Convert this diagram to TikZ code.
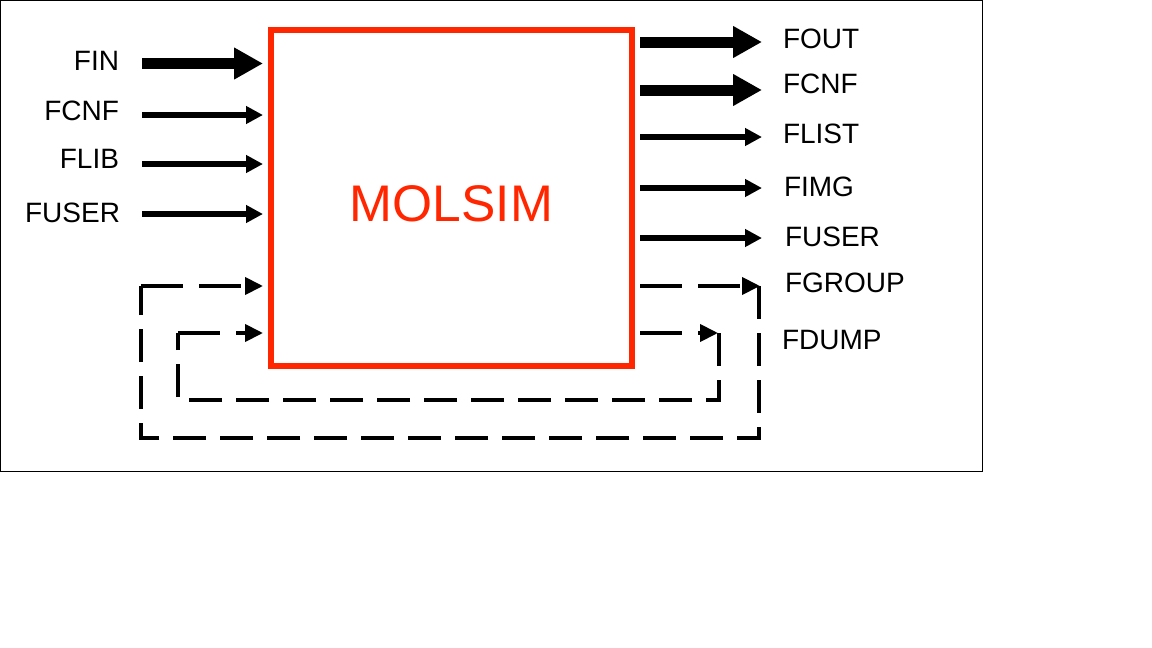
\documentclass[tikz,border=0pt]{standalone}
\usepackage{fontspec}
\setmainfont{Liberation Sans}
\usetikzlibrary{arrows.meta}
\definecolor{molred}{RGB}{255,38,0}
\begin{document}
\begin{tikzpicture}[x=1pt,y=-1pt,
  lbl/.style={inner sep=0pt, outer sep=0pt, font=\fontsize{28}{33}\selectfont},
  bigarrow/.style={line width=11pt, -{Triangle[length=29pt,width=30pt]}},
  thinarrow/.style={line width=6pt, -{Triangle[length=17pt,width=17pt]}},
  dasharrow/.style={line width=4pt, dash pattern=on 42pt off 16pt, -{Triangle[length=18pt,width=17pt]}},
  loopline/.style={line width=4pt, line join=miter, dash pattern=on 33pt off 14pt},
  molbox/.style={draw=molred, line width=6pt, inner sep=0pt, outer sep=0pt,
    minimum width=361pt, minimum height=336.5pt, text=molred,
    text height=46.5pt, text depth=0pt,
    font=\fontsize{51.5}{60}\selectfont}
]
\useasboundingbox (0,0) rectangle (1152,648);
\fill[white] (0,0) rectangle (1152,648);
\draw[line width=1pt] (0.5,0.5) rectangle (982,471);

% main box
\node[molbox] (box) at (451.5,197.75) {MOLSIM};

% input labels
\node[lbl, anchor=east] (iFIN)   at (119,60.5)  {FIN};
\node[lbl, anchor=east] (iFCNF)  at (119,110.5) {FCNF};
\node[lbl, anchor=east] (iFLIB)  at (119,158.5) {FLIB};
\node[lbl, anchor=east] (iFUSER) at (120,212.5) {FUSER};

% input start points
\coordinate (sFIN)   at (142,63.5);
\coordinate (sFCNF)  at (142,115);
\coordinate (sFLIB)  at (142,164);
\coordinate (sFUSER) at (142,214);

\draw[bigarrow, shorten >=8pt]  (sFIN)   -- (sFIN -| box.west);
\draw[thinarrow, shorten >=8pt] (sFCNF)  -- (sFCNF -| box.west);
\draw[thinarrow, shorten >=8pt] (sFLIB)  -- (sFLIB -| box.west);
\draw[thinarrow, shorten >=8pt] (sFUSER) -- (sFUSER -| box.west);

% output labels
\node[lbl, anchor=west] (oFOUT)   at (783,39)    {FOUT};
\node[lbl, anchor=west] (oFCNF)   at (783,84)    {FCNF};
\node[lbl, anchor=west] (oFLIST)  at (783,134)   {FLIST};
\node[lbl, anchor=west] (oFIMG)   at (784,187)   {FIMG};
\node[lbl, anchor=west] (oFUSER)  at (785,237)   {FUSER};
\node[lbl, anchor=west] (oFGROUP) at (785,283)   {FGROUP};
\node[lbl, anchor=west] (oFDUMP)  at (782,340.5) {FDUMP};

% output end points
\coordinate (eFOUT)  at (762,42);
\coordinate (eFCNF)  at (762,90);
\coordinate (eFLIST) at (762,137);
\coordinate (eFIMG)  at (762,188);
\coordinate (eFUSER) at (762,238);

\draw[bigarrow, shorten <=8pt]  (eFOUT -| box.east)  -- (eFOUT);
\draw[bigarrow, shorten <=8pt]  (eFCNF -| box.east)  -- (eFCNF);
\draw[thinarrow, shorten <=8pt] (eFLIST -| box.east) -- (eFLIST);
\draw[thinarrow, shorten <=8pt] (eFIMG -| box.east)  -- (eFIMG);
\draw[thinarrow, shorten <=8pt] (eFUSER -| box.east) -- (eFUSER);

% feedback loops
\coordinate (gOut) at (760,286);
\coordinate (gR)   at (759,286);
\coordinate (gBR)  at (759,438);
\coordinate (gBL)  at (141,438);
\coordinate (gL)   at (141,286);

\coordinate (dOut) at (718,333);
\coordinate (dR)   at (719,333);
\coordinate (dBR)  at (719,400);
\coordinate (dBL)  at (178,400);
\coordinate (dL)   at (178,333);

\draw[dasharrow, shorten <=8pt] (gOut -| box.east) -- (gOut);
\draw[loopline] (gR) -- (gBR) -- (gBL) -- (gL);
\draw[dasharrow, shorten >=8pt] (gL) -- (gL -| box.west);

\draw[dasharrow, shorten <=8pt] (dOut -| box.east) -- (dOut);
\draw[loopline] (dR) -- (dBR) -- (dBL) -- (dL);
\draw[dasharrow, shorten >=8pt] (dL) -- (dL -| box.west);
\end{tikzpicture}
\end{document}
